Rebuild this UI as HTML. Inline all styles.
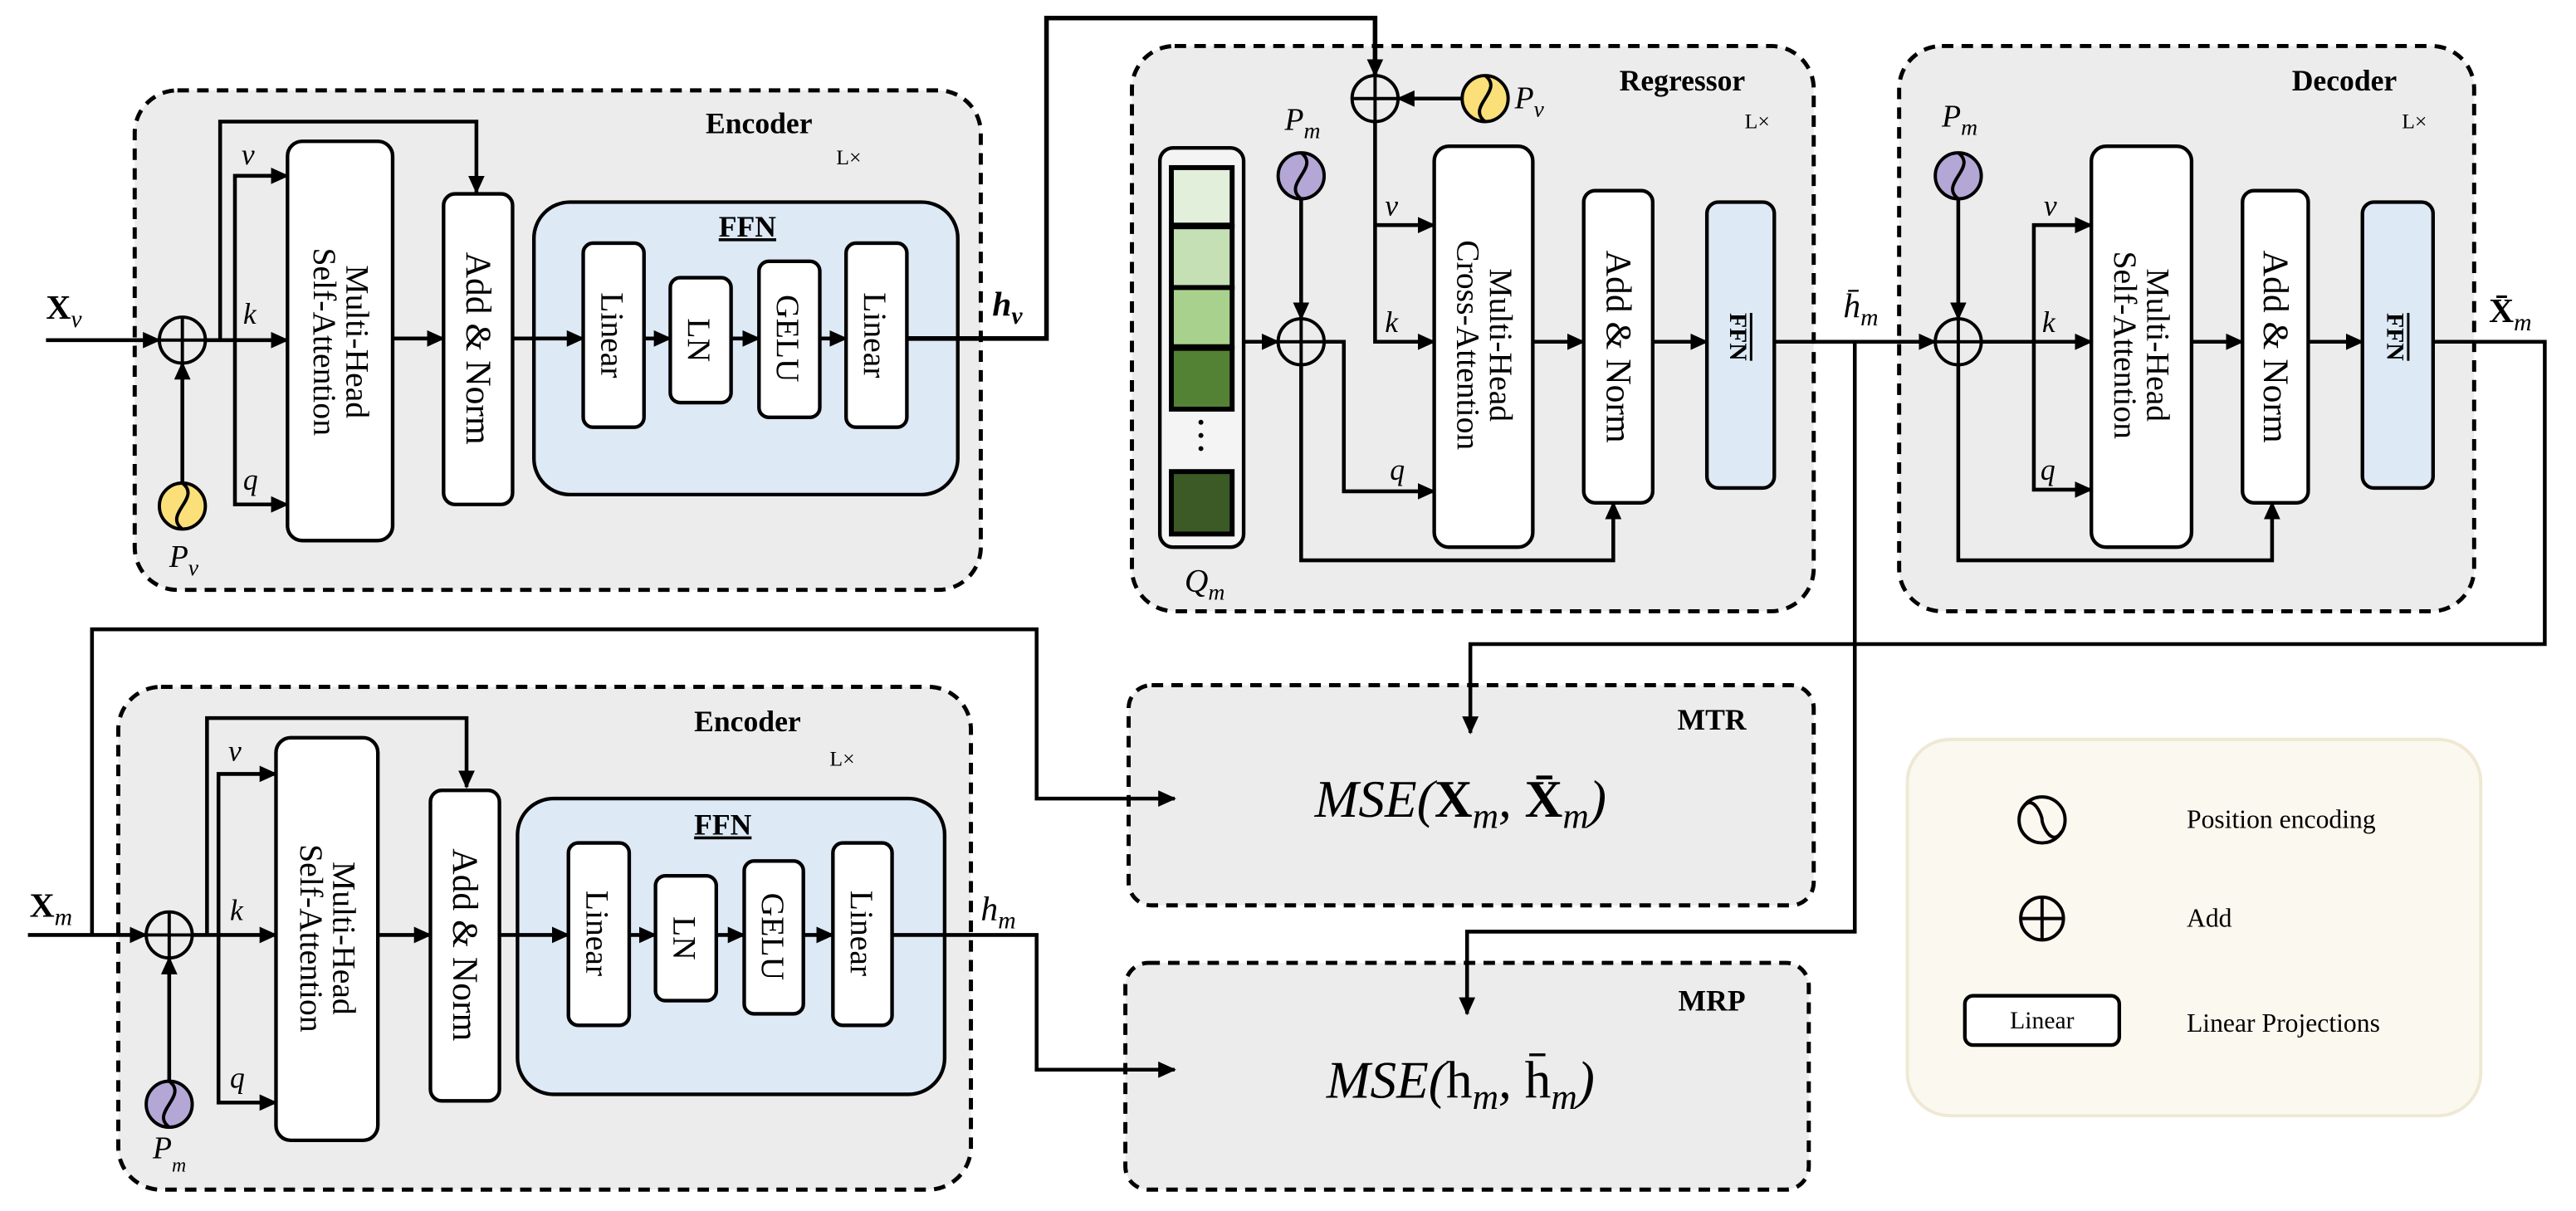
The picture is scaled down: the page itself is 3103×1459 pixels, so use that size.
<!DOCTYPE html>
<html><head><meta charset="utf-8"><style>
html,body{margin:0;padding:0;background:#fff;}
svg{display:block;}
text{font-family:"Liberation Serif",serif;fill:#000;}
.t{font-weight:bold;font-size:18px;}
.lx{font-size:13px;}
.it{font-style:italic;font-size:18px;}
.bx{font-size:20px;}
</style></head><body>
<svg width="3103" height="1459" viewBox="0 0 1568 737" preserveAspectRatio="none" xmlns="http://www.w3.org/2000/svg">
<defs>
<marker id="a" markerUnits="userSpaceOnUse" markerWidth="12" markerHeight="12" refX="10" refY="5" orient="auto"><path d="M0,0 L11,5 L0,10 Z" fill="#000"/></marker>
</defs>
<g fill="#ececec" stroke="#000" stroke-width="2.5" stroke-dasharray="7 5">
<rect x="82" y="55" width="515" height="304" rx="26"/>
<rect x="689" y="28" width="415" height="344" rx="26"/>
<rect x="1156" y="28" width="350" height="344" rx="26"/>
<rect x="72" y="418" width="519" height="306" rx="26"/>
<rect x="687" y="417" width="417" height="134" rx="14"/>
<rect x="685" y="586" width="416" height="138" rx="14"/>
</g>
<rect x="1161" y="450" width="349" height="229" rx="26" fill="#fbf8ef" stroke="#efe8d4" stroke-width="2"/>
<g stroke="#000" stroke-width="2.2" fill="#dde9f5">
<rect x="325" y="123" width="258" height="178" rx="22"/>
<rect x="315" y="486" width="260" height="180" rx="22"/>
<rect x="1039" y="123" width="41" height="174" rx="7"/>
<rect x="1438" y="123" width="43" height="174" rx="7"/>
</g>
<g stroke="#000" stroke-width="2.2" fill="#fff">
<rect x="175" y="86" width="64" height="243" rx="9"/>
<rect x="270" y="118" width="42" height="189" rx="7"/>
<rect x="355" y="148" width="37" height="112" rx="6"/>
<rect x="408" y="169" width="37" height="76" rx="6"/>
<rect x="462" y="159" width="37" height="95" rx="6"/>
<rect x="515" y="148" width="37" height="112" rx="6"/>
<rect x="873" y="89" width="60" height="244" rx="9"/>
<rect x="964" y="116" width="42" height="190" rx="7"/>
<rect x="1273" y="89" width="61" height="244" rx="9"/>
<rect x="1365" y="116" width="40" height="190" rx="7"/>
<rect x="168" y="449" width="62" height="245" rx="9"/>
<rect x="262" y="481" width="42" height="189" rx="7"/>
<rect x="346" y="513" width="37" height="111" rx="6"/>
<rect x="399" y="533" width="37" height="76" rx="6"/>
<rect x="453" y="524" width="36" height="93" rx="6"/>
<rect x="507" y="513" width="36" height="111" rx="6"/>
<rect x="1196" y="606" width="94" height="30" rx="5"/>
<rect x="706" y="90" width="51" height="243" rx="8" fill="#f4f4f4"/>
</g>
<g stroke="#000" stroke-width="3">
<rect x="713" y="102" width="37" height="35" fill="#e2efda"/>
<rect x="713" y="138" width="37" height="37" fill="#c5e0b4"/>
<rect x="713" y="175" width="37" height="36" fill="#a9d18e"/>
<rect x="713" y="212" width="37" height="37" fill="#548235"/>
<rect x="713" y="287" width="37" height="38" fill="#3b5a26"/>
</g>
<g fill="#000"><circle cx="731" cy="257" r="1.5"/><circle cx="731" cy="265" r="1.5"/><circle cx="731" cy="273" r="1.5"/></g>
<g fill="none" stroke="#000" stroke-width="2.3">
<path d="M28 207H97" marker-end="url(#a)"/>
<path d="M111 294V221" marker-end="url(#a)"/>
<path d="M125 207H175" marker-end="url(#a)"/>
<path d="M134 207V74H290V117" marker-end="url(#a)"/>
<path d="M143 207V107H175" marker-end="url(#a)"/>
<path d="M143 207V307H175" marker-end="url(#a)"/>
<path d="M239 206H270" marker-end="url(#a)"/>
<path d="M312 206H355" marker-end="url(#a)"/>
<path d="M392 206H408" marker-end="url(#a)"/>
<path d="M445 206H462" marker-end="url(#a)"/>
<path d="M499 206H515" marker-end="url(#a)"/>
<path d="M552 206H637V11H837V46" marker-end="url(#a)" stroke-width="2.8"/>
<path d="M890 60H851" marker-end="url(#a)"/>
<path d="M837 74V208H873" marker-end="url(#a)"/>
<path d="M837 137H873" marker-end="url(#a)"/>
<path d="M757 208H778" marker-end="url(#a)"/>
<path d="M792 121V194" marker-end="url(#a)"/>
<path d="M806 208H818V299H873" marker-end="url(#a)"/>
<path d="M792 222V341H982V306" marker-end="url(#a)"/>
<path d="M933 208H964" marker-end="url(#a)"/>
<path d="M1006 208H1039" marker-end="url(#a)"/>
<path d="M1080 208H1178" marker-end="url(#a)"/>
<path d="M1129 208V567H893V617" marker-end="url(#a)"/>
<path d="M1192 121V194" marker-end="url(#a)"/>
<path d="M1206 208H1273" marker-end="url(#a)"/>
<path d="M1238 208V137H1273" marker-end="url(#a)"/>
<path d="M1238 208V298H1273" marker-end="url(#a)"/>
<path d="M1192 222V341H1383V306" marker-end="url(#a)"/>
<path d="M1334 208H1365" marker-end="url(#a)"/>
<path d="M1405 208H1438" marker-end="url(#a)"/>
<path d="M1481 208H1549V392H895V446" marker-end="url(#a)"/>
<path d="M17 569H89" marker-end="url(#a)"/>
<path d="M103 658V583" marker-end="url(#a)"/>
<path d="M56 569V383H631V486H715" marker-end="url(#a)"/>
<path d="M117 569H168" marker-end="url(#a)"/>
<path d="M126 569V437H284V479" marker-end="url(#a)"/>
<path d="M133 569V471H168" marker-end="url(#a)"/>
<path d="M133 569V671H168" marker-end="url(#a)"/>
<path d="M230 569H262" marker-end="url(#a)"/>
<path d="M304 569H346" marker-end="url(#a)"/>
<path d="M383 569H399" marker-end="url(#a)"/>
<path d="M436 569H453" marker-end="url(#a)"/>
<path d="M489 569H507" marker-end="url(#a)"/>
<path d="M543 569H631V651H715" marker-end="url(#a)"/>
</g>
<g fill="none" stroke="#000" stroke-width="2">
<g><circle cx="111" cy="207" r="14"/><path d="M97 207H125M111 193V221"/></g>
<g><circle cx="837" cy="60" r="14"/><path d="M823 60H851M837 46V74"/></g>
<g><circle cx="792" cy="208" r="14"/><path d="M778 208H806M792 194V222"/></g>
<g><circle cx="1192" cy="208" r="14"/><path d="M1178 208H1206M1192 194V222"/></g>
<g><circle cx="103" cy="569" r="14"/><path d="M89 569H117M103 555V583"/></g>
<g><circle cx="1243" cy="559" r="13"/><path d="M1230 559H1256M1243 546V572"/></g>
</g>
<g stroke="#000" stroke-width="2">
<circle cx="111" cy="308" r="14" fill="#fbe07a"/><path d="M111 294C123 303 99 313 111 322" fill="none"/>
<circle cx="904" cy="60" r="14" fill="#fbe07a"/><path d="M904 46C916 55 892 65 904 74" fill="none"/>
<circle cx="792" cy="107" r="14" fill="#b4a7d6"/><path d="M792 93C804 102 780 112 792 121" fill="none"/>
<circle cx="1192" cy="107" r="14" fill="#b4a7d6"/><path d="M1192 93C1204 102 1180 112 1192 121" fill="none"/>
<circle cx="103" cy="672" r="14" fill="#b4a7d6"/><path d="M103 658C115 667 91 677 103 686" fill="none"/>
<circle cx="1243" cy="499" r="14" fill="none"/><path d="M1231 492C1237 482 1243 496 1243 499C1243 502 1249 516 1255 506" fill="none"/>
</g>
<text class="t" x="462" y="81" text-anchor="middle">Encoder</text>
<text class="lx" x="509" y="100">L×</text>
<text class="t" x="1024" y="55" text-anchor="middle">Regressor</text>
<text class="lx" x="1062" y="78">L×</text>
<text class="t" x="1427" y="55" text-anchor="middle">Decoder</text>
<text class="lx" x="1462" y="78">L×</text>
<text class="t" x="455" y="445" text-anchor="middle">Encoder</text>
<text class="lx" x="505" y="466">L×</text>
<text class="t" x="1042" y="444" text-anchor="middle">MTR</text>
<text class="t" x="1042" y="615" text-anchor="middle">MRP</text>
<text class="t" x="455" y="144" text-anchor="middle" text-decoration="underline">FFN</text>
<text class="t" x="440" y="508" text-anchor="middle" text-decoration="underline">FFN</text>
<text class="it" x="147" y="100">v</text><text class="it" x="148" y="197">k</text><text class="it" x="148" y="298">q</text>
<text class="it" x="843" y="131">v</text><text class="it" x="843" y="202">k</text><text class="it" x="846" y="292">q</text>
<text class="it" x="1244" y="131">v</text><text class="it" x="1243" y="202">k</text><text class="it" x="1242" y="292">q</text>
<text class="it" x="139" y="463">v</text><text class="it" x="140" y="560">k</text><text class="it" x="140" y="662">q</text>
<text x="28" y="194" font-size="21" font-weight="bold">X<tspan font-style="italic" font-weight="normal" font-size="15" dy="5">v</tspan></text>
<text x="18" y="558" font-size="21" font-weight="bold">X<tspan font-style="italic" font-weight="normal" font-size="15" dy="5">m</tspan></text>
<text x="604" y="192" font-size="21" font-style="italic" font-weight="bold">h<tspan font-size="15" dy="5">v</tspan></text>
<text x="597" y="560" font-size="21" font-style="italic">h<tspan font-size="15" dy="5">m</tspan></text>
<text x="1122" y="193" font-size="21" font-style="italic">h̄<tspan font-size="15" dy="5">m</tspan></text>
<text x="1515" y="196" font-size="21" font-weight="bold">X̄<tspan font-style="italic" font-weight="normal" font-size="15" dy="5">m</tspan></text>
<text x="103" y="345" font-size="19" font-style="italic">P<tspan font-size="14" dy="5">v</tspan></text>
<text x="922" y="66" font-size="19" font-style="italic">P<tspan font-size="14" dy="5">v</tspan></text>
<text x="782" y="79" font-size="19" font-style="italic">P<tspan font-size="14" dy="5">m</tspan></text>
<text x="1182" y="77" font-size="19" font-style="italic">P<tspan font-size="14" dy="5">m</tspan></text>
<text x="93" y="705" font-size="19" font-style="italic">P<tspan font-size="12" dy="8">m</tspan></text>
<text x="721" y="360" font-size="20" font-style="italic">Q<tspan font-size="14" dy="5">m</tspan></text>
<g class="bx" text-anchor="middle" font-size="20">
<text transform="translate(207,208) rotate(90)"><tspan x="0" y="-4">Multi-Head</tspan><tspan x="0" y="16">Self-Attention</tspan></text>
<text transform="translate(291,212) rotate(90)" x="0" y="7" font-size="22">Add &amp; Norm</text>
<text transform="translate(373,204) rotate(90)" x="0" y="7">Linear</text>
<text transform="translate(426,207) rotate(90)" x="0" y="7">LN</text>
<text transform="translate(480,206) rotate(90)" x="0" y="7">GELU</text>
<text transform="translate(533,204) rotate(90)" x="0" y="7">Linear</text>
<text transform="translate(903,210) rotate(90)"><tspan x="0" y="-4">Multi-Head</tspan><tspan x="0" y="16">Cross-Attention</tspan></text>
<text transform="translate(985,211) rotate(90)" x="0" y="7" font-size="22">Add &amp; Norm</text>
<text transform="translate(1059,205) rotate(90)" x="0" y="6" font-size="15" font-weight="bold" text-decoration="overline">FFN</text>
<text transform="translate(1303,210) rotate(90)"><tspan x="0" y="-4">Multi-Head</tspan><tspan x="0" y="16">Self-Attention</tspan></text>
<text transform="translate(1385,211) rotate(90)" x="0" y="7" font-size="22">Add &amp; Norm</text>
<text transform="translate(1459,205) rotate(90)" x="0" y="6" font-size="15" font-weight="bold" text-decoration="overline">FFN</text>
<text transform="translate(199,571) rotate(90)"><tspan x="0" y="-4">Multi-Head</tspan><tspan x="0" y="16">Self-Attention</tspan></text>
<text transform="translate(283,575) rotate(90)" x="0" y="7" font-size="22">Add &amp; Norm</text>
<text transform="translate(364,568) rotate(90)" x="0" y="7">Linear</text>
<text transform="translate(417,571) rotate(90)" x="0" y="7">LN</text>
<text transform="translate(471,570) rotate(90)" x="0" y="7">GELU</text>
<text transform="translate(525,568) rotate(90)" x="0" y="7">Linear</text>
</g>
<text x="889" y="497" text-anchor="middle" font-size="32" font-style="italic">MSE(<tspan font-style="normal" font-weight="bold">X</tspan><tspan font-size="22" dy="7">m</tspan><tspan dy="-7">, </tspan><tspan font-style="normal" font-weight="bold">X̄</tspan><tspan font-size="22" dy="7">m</tspan><tspan dy="-7">)</tspan></text>
<text x="889" y="668" text-anchor="middle" font-size="32" font-style="italic">MSE(<tspan font-style="normal">h</tspan><tspan font-size="22" dy="7">m</tspan><tspan dy="-7">, </tspan><tspan font-style="normal">h̄</tspan><tspan font-size="22" dy="7">m</tspan><tspan dy="-7">)</tspan></text>
<text x="1331" y="504" font-size="16">Position encoding</text>
<text x="1331" y="564" font-size="16">Add</text>
<text x="1243" y="626" font-size="15" text-anchor="middle">Linear</text>
<text x="1331" y="628" font-size="16">Linear  Projections</text>
</svg>
</body></html>
